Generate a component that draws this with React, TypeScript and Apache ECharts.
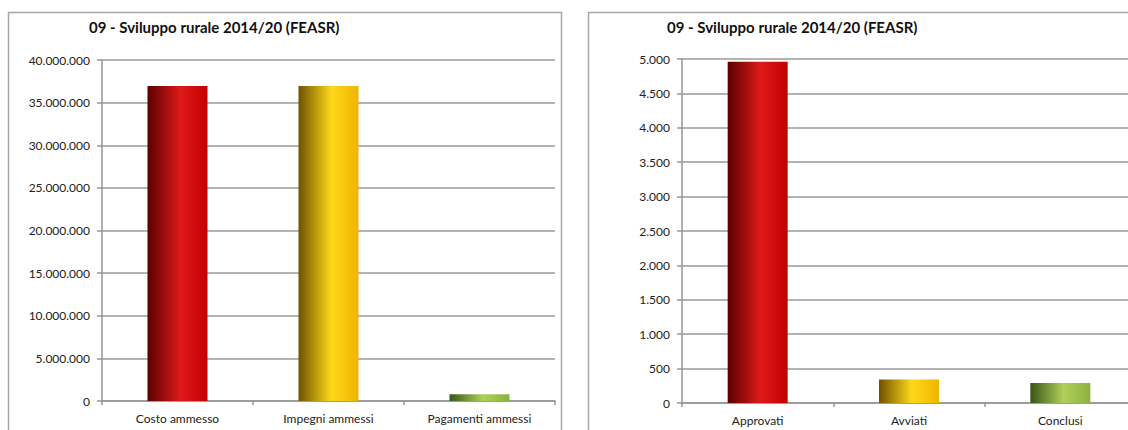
import React, { useEffect, useRef } from "react";
import * as echarts from "echarts";

const titleText = "09 - Sviluppo rurale 2014/20 (FEASR)";
const leftCategories = ["Costo ammesso", "Impegni ammessi", "Pagamenti ammessi"];
const leftValues = [36950000, 36950000, 800000];
const rightCategories = ["Approvati", "Avviati", "Conclusi"];
const rightValues = [4960, 340, 290];

const FONT = "Lato, 'Open Sans', sans-serif";

const grad = (dark: string, light: string, mid: string) =>
  new echarts.graphic.LinearGradient(0, 0, 1, 0, [
    { offset: 0, color: dark },
    { offset: 0.55, color: light },
    { offset: 1, color: mid },
  ]);

const barColors = [
  grad("#5a0000", "#de1a1a", "#c30000"),
  grad("#6e5200", "#ffd81a", "#f0b400"),
  grad("#3a5518", "#aed058", "#8cb23e"),
];

const fmt = (v: number) =>
  String(Math.round(v)).replace(/\B(?=(\d{3})+(?!\d))/g, ".");

export default function App() {
  const ref = useRef<HTMLDivElement>(null);
  useEffect(() => {
    if (!ref.current) return;
    const chart = echarts.init(ref.current, undefined, { renderer: "svg" });
    const axisLine = { lineStyle: { color: "#969696", width: 1.5 } };
    const yAxisCommon = {
      type: "value" as const,
      min: 0,
      axisLine: { show: true, ...axisLine },
      axisTick: { show: true, length: 5, lineStyle: { color: "#969696", width: 1.5 } },
      splitLine: { show: true, lineStyle: { color: "#9a9a9a", width: 1.5 } },
      axisLabel: {
        margin: 12,
        color: "#222",
        fontFamily: FONT,
        fontSize: 12,
        formatter: (v: number) => fmt(v),
      },
    };
    const xAxisCommon = {
      type: "category" as const,
      axisLine: { show: true, ...axisLine },
      axisTick: { show: true, length: 4, lineStyle: { color: "#969696", width: 1.5 } },
      axisLabel: { margin: 11, color: "#222", fontFamily: FONT, fontSize: 12 },
      splitLine: { show: false },
    };
    const itemColor = (p: any) => barColors[p.dataIndex];
    const titleStyle = { fontFamily: FONT, fontSize: 15, fontWeight: "bold" as const, color: "#111" };
    chart.setOption({
      animation: false,
      backgroundColor: "#fff",
      title: [
        { text: titleText, left: 89, top: 19, padding: 0, textStyle: titleStyle },
        { text: titleText, left: 667, top: 19, padding: 0, textStyle: titleStyle },
      ],
      graphic: [
        {
          type: "rect",
          shape: { x: 8.5, y: 12.5, width: 553, height: 440 },
          style: { fill: "none", stroke: "#a6a6a6", lineWidth: 1.5 },
          z: -1,
        },
        {
          type: "rect",
          shape: { x: 588.5, y: 12.5, width: 600, height: 440 },
          style: { fill: "none", stroke: "#a6a6a6", lineWidth: 1.5 },
          z: -1,
        },
      ],
      grid: [
        { left: 102, top: 60, width: 453, height: 341 },
        { left: 682, top: 59, width: 454, height: 344 },
      ],
      xAxis: [
        { ...xAxisCommon, gridIndex: 0, data: leftCategories },
        { ...xAxisCommon, gridIndex: 1, data: rightCategories },
      ],
      yAxis: [
        { ...yAxisCommon, gridIndex: 0, max: 40000000, interval: 5000000 },
        { ...yAxisCommon, gridIndex: 1, max: 5000, interval: 500 },
      ],
      series: [
        {
          type: "bar",
          xAxisIndex: 0,
          yAxisIndex: 0,
          data: leftValues,
          barWidth: 60,
          itemStyle: { color: itemColor },
        },
        {
          type: "bar",
          xAxisIndex: 1,
          yAxisIndex: 1,
          data: rightValues,
          barWidth: 60,
          itemStyle: { color: itemColor },
        },
      ],
    });
    return () => chart.dispose();
  }, []);
  return (
    <div
      style={{
        position: "fixed",
        left: 0,
        top: 0,
        width: 1128,
        height: 430,
        overflow: "hidden",
      }}
    >
      <div ref={ref} style={{ width: 1150, height: 430 }} />
    </div>
  );
}
